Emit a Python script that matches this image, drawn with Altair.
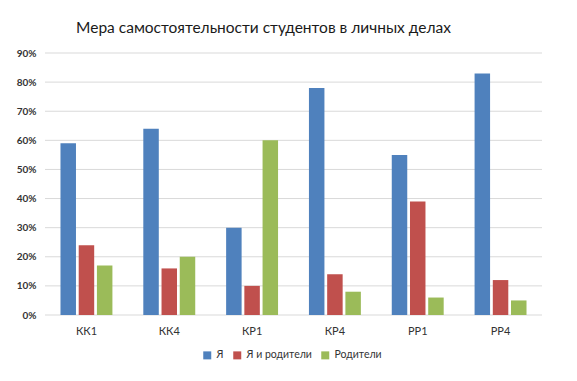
import altair as alt
import pandas as pd

categories = ["КК1", "КК4", "КР1", "КР4", "РР1", "РР4"]
series = ["Я", "Я и родители", "Родители"]
ya = [0.59, 0.64, 0.30, 0.78, 0.55, 0.83]
ya_rod = [0.24, 0.16, 0.10, 0.14, 0.39, 0.12]
rod = [0.17, 0.20, 0.60, 0.08, 0.06, 0.05]
ticks = [0.0, 0.1, 0.2, 0.3, 0.4, 0.5, 0.6, 0.7, 0.8, 0.9]
colors = ["#4F81BD", "#C0504D", "#9BBB59"]

rows = []
for vals, s in zip([ya, ya_rod, rod], series):
    for c, v in zip(categories, vals):
        rows.append({"cat": c, "series": s, "value": v})
df = pd.DataFrame(rows)
grid_df = pd.DataFrame({"value": ticks})

font = "Lato"
yscale = alt.Scale(domain=[0, 0.9])
yaxis = alt.Axis(format="%", values=ticks, domain=False, ticks=False, grid=False,
                 labelFontSize=10, labelColor="#333333", labelFont=font,
                 labelFontWeight="bold", labelPadding=9)

grid = alt.Chart(grid_df).mark_rule(color="#D9D9D9", strokeWidth=1).encode(
    y=alt.Y("value:Q", title=None, scale=yscale, axis=yaxis),
)

bars = alt.Chart(df).mark_bar().encode(
    x=alt.X("cat:N", sort=categories, title=None,
            scale=alt.Scale(paddingInner=0.373, paddingOuter=0.187),
            axis=alt.Axis(labelAngle=0, ticks=False, domain=False, grid=False,
                          labelPadding=10, labelFontSize=11, labelColor="#333333",
                          labelFont=font)),
    xOffset=alt.XOffset("series:N", sort=series,
                        scale=alt.Scale(paddingInner=0.15, paddingOuter=0)),
    y=alt.Y("value:Q", title=None, scale=yscale, axis=yaxis),
    color=alt.Color("series:N", sort=series,
                    scale=alt.Scale(domain=series, range=colors),
                    legend=alt.Legend(title=None, orient="none", direction="horizontal",
                                      legendX=157, legendY=297,
                                      symbolType="square", symbolSize=64,
                                      symbolStrokeWidth=0, labelOffset=4,
                                      labelFontSize=10.5, labelFont=font,
                                      labelColor="#333333", columnPadding=8)),
)

chart = alt.layer(grid, bars).properties(
    width=497, height=262,
    background="white",
    view=alt.ViewBackground(stroke="transparent", strokeWidth=0),
    title=alt.TitleParams("Мера самостоятельности студентов в личных делах",
                          fontSize=15.5, font=font, fontWeight="normal",
                          color="#1a1a1a", offset=12, dx=-30),
    padding={"left": 8, "top": 12, "right": 20, "bottom": 10},
).configure_view(stroke="transparent", strokeWidth=0)

chart.save("out.html", embed_options={"renderer": "svg", "actions": False})
